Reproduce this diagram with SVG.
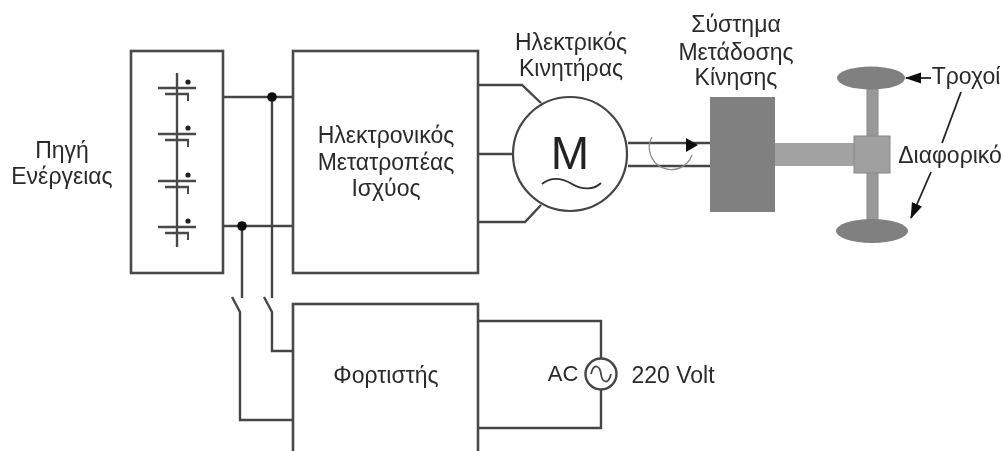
<svg xmlns="http://www.w3.org/2000/svg" width="1003" height="451" viewBox="0 0 1003 451">
<style>
.t{font-family:"Liberation Sans",Arial,sans-serif;font-size:23px;fill:#2a2a2a;text-anchor:middle}
.b{fill:#fff;stroke:#4a4a4a;stroke-width:2.6}
.w{fill:none;stroke:#444;stroke-width:2.4}
.th{fill:none;stroke:#222;stroke-width:1.8}
</style>
<defs>
<filter id="soft" x="0" y="0" width="1" height="1"><feGaussianBlur stdDeviation="0.6"/></filter>
<marker id="ah" markerUnits="userSpaceOnUse" markerWidth="16" markerHeight="12" refX="15" refY="6" orient="auto"><path d="M0 0.500L16 6L0 11.500Z" fill="#111"/></marker>
<g id="cell"><path d="M-19 0H19M-12 6H12" stroke="#4a4a4a" stroke-width="2.400" fill="none"/><circle cx="11" cy="-6" r="2.600" fill="#222"/><path d="M11 6V13" stroke="#4a4a4a" stroke-width="2"/></g>
</defs>
<rect width="1003" height="451" fill="#fff"/>
<g filter="url(#soft)">
<g id="connectors">
<path class="w" d="M223 97H293M223 226H293M272 97V298M242 226V298"/>
<path class="w" d="M232 297L240 312V420H293M264 297L272 312V351H293"/>
<path class="w" d="M478 85H522L541 103M478 154H513M478 222H525L541 205"/>
<path class="w" d="M628 143H710M628 166H710"/>
<path d="M686 138L698 145L686 152Z" fill="#111"/>
<path d="M652 137A22 22 0 1 0 692 155" fill="none" stroke="#888" stroke-width="1.200"/>
<path class="w" d="M478 321H601V358M478 428H601V390"/>
<path class="th" d="M961 92L942 143"/>
<path class="th" d="M931 172L911 218" marker-end="url(#ah)"/>
<path class="th" d="M931 78H906" marker-end="url(#ah)"/>
<circle cx="272" cy="97" r="4.800" fill="#111"/>
<circle cx="242" cy="226" r="4.800" fill="#111"/>
</g>
<g id="source"><rect class="b" x="131" y="51" width="92" height="222"/>
<path d="M177 73V247" stroke="#4a4a4a" stroke-width="2.400"/>
<use href="#cell" x="177" y="88"/><use href="#cell" x="177" y="134"/><use href="#cell" x="177" y="181"/><use href="#cell" x="177" y="227"/>
</g>
<g id="inverter"><rect class="b" x="293" y="51" width="185" height="222"/>
<text class="t" x="386" y="143">Ηλεκτρονικός</text><text class="t" x="386" y="170">Μετατροπέας</text><text class="t" x="386" y="196">Ισχύος</text></g>
<g id="charger"><rect class="b" x="293" y="304" width="185" height="160"/>
<text class="t" x="386" y="383">Φορτιστής</text></g>
<g id="motor"><circle cx="570" cy="154" r="57" fill="#fff" stroke="#444" stroke-width="2.200"/>
<text x="570" y="169" font-family="Liberation Sans, Arial, sans-serif" font-size="46" fill="#222" text-anchor="middle">M</text>
<path d="M542 184C552 176 562 178 572 184S594 190 601 183" fill="none" stroke="#333" stroke-width="1.800"/></g>
<g id="transmission"><rect x="710" y="97" width="65" height="115" fill="#808080"/></g>
<g id="drivetrain">
<rect x="867" y="88" width="11" height="132" fill="#999" stroke="#888"/>
<rect x="775" y="143" width="80" height="23" fill="#a3a3a3"/>
<rect x="854" y="136" width="36" height="37" fill="#a0a0a0" stroke="#888"/>
<ellipse cx="871" cy="78" rx="34" ry="11.500" fill="#808080"/>
<ellipse cx="872" cy="231" rx="36" ry="12" fill="#808080"/></g>
<g id="labels">
<text class="t" x="62" y="158">Πηγή</text><text class="t" x="62" y="184">Ενέργειας</text>
<text class="t" x="571" y="50">Ηλεκτρικός</text><text class="t" x="571" y="76">Κινητήρας</text>
<text class="t" x="736" y="32">Σύστημα</text><text class="t" x="736" y="60">Μετάδοσης</text><text class="t" x="736" y="85">Κίνησης</text>
<text class="t" x="966" y="84">Τροχοί</text><text class="t" x="950" y="163">Διαφορικό</text>
<text class="t" x="563" y="381" style="font-size:22px">AC</text><text class="t" x="673" y="383">220 Volt</text></g>
<g id="ac"><circle cx="601" cy="374" r="15.500" fill="#fff" stroke="#444" stroke-width="2.400"/>
<path d="M591 374C594 362 600 366 601 374S608 386 611 374" fill="none" stroke="#444" stroke-width="1.800"/></g>
</g>
</svg>
